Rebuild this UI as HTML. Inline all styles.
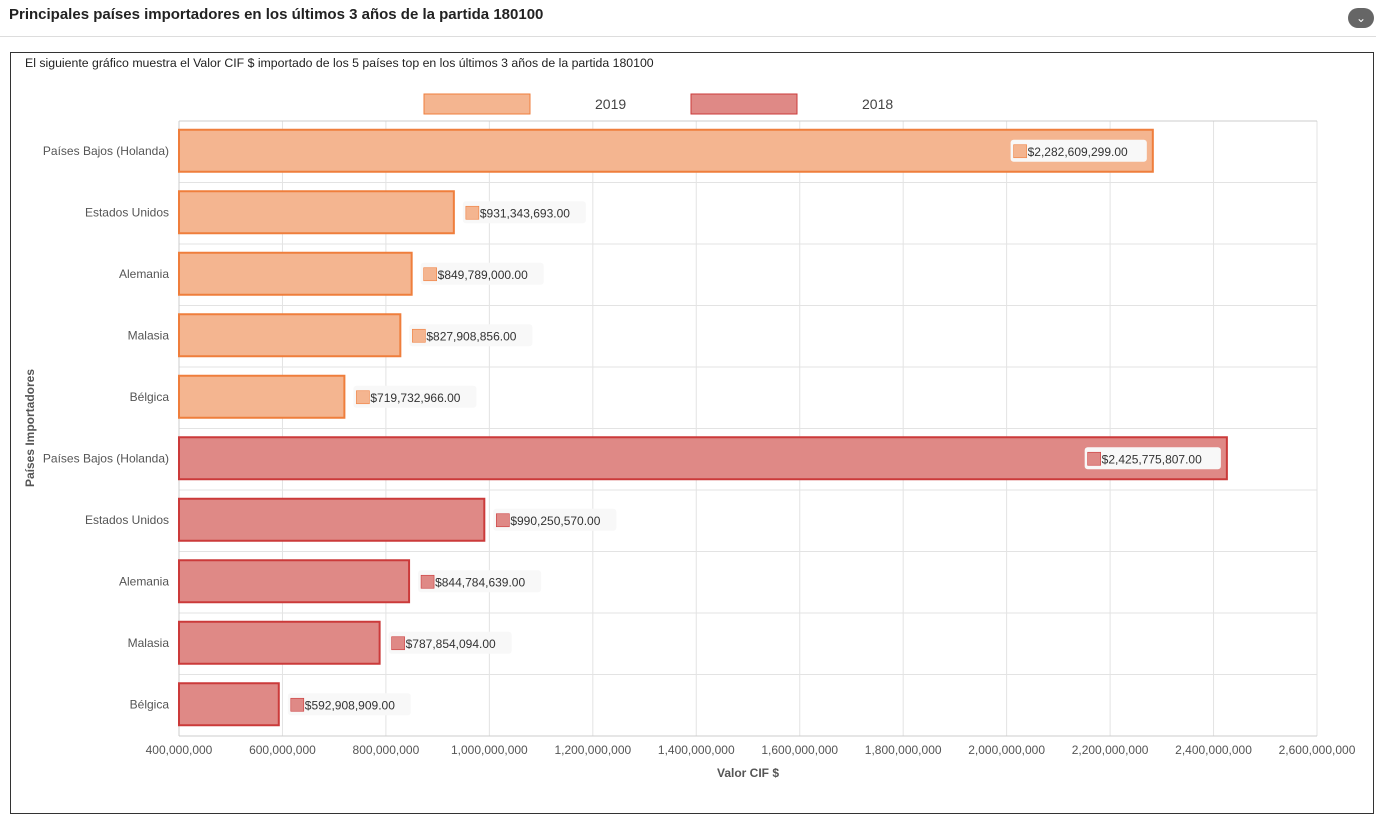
<!DOCTYPE html>
<html><head><meta charset="utf-8"><style>
body{margin:0;width:1376px;height:796px;overflow:hidden;background:#fff;font-family:"Liberation Sans",sans-serif;}
#title{position:absolute;left:9px;top:6px;font-size:15px;font-weight:bold;color:#222;}
#hr{position:absolute;left:0;top:36px;width:1376px;height:1px;background:#ddd;}
#tog{position:absolute;left:1348px;top:8px;width:26px;height:20px;border-radius:10px;background:#666;color:#fff;font-size:12px;text-align:center;line-height:20px;}
#frame{position:absolute;left:10px;top:52px;width:1362px;height:760px;border:1px solid #333;}
#sub{position:absolute;left:25px;top:56px;font-size:12.3px;color:#222;}
</style></head><body>
<div id="title">Principales países importadores en los últimos 3 años de la partida 180100</div>
<div id="hr"></div>
<div id="tog">⌄</div>
<div id="frame"></div>
<div id="sub">El siguiente gráfico muestra el Valor CIF $ importado de los 5 países top en los últimos 3 años de la partida 180100</div>
<svg id="chart" width="1376" height="796" style="position:absolute;left:0;top:0"></svg>
<script>
const countries=["Países Bajos (Holanda)","Estados Unidos","Alemania","Malasia","Bélgica"];
const series=["2019","2018"];
const values2019=[2282609299,931343693,849789000,827908856,719732966];
const values2018=[2425775807,990250570,844784639,787854094,592908909];
const ticks=[400e6,600e6,800e6,1000e6,1200e6,1400e6,1600e6,1800e6,2000e6,2200e6,2400e6,2600e6];
const NS="http://www.w3.org/2000/svg",svg=document.getElementById('chart');
const x0=179,x1=1317,y0=121,y1=736,vmin=400e6,vmax=2600e6;
const xs=v=>x0+(v-vmin)/(vmax-vmin)*(x1-x0);
const rows=10,rh=(y1-y0)/rows;
function el(t,a,txt){const e=document.createElementNS(NS,t);for(const k in a)e.setAttribute(k,a[k]);if(txt!=null)e.textContent=txt;svg.appendChild(e);return e;}
const fmt=n=>n.toLocaleString('en-US');
ticks.forEach(t=>{const g=el('line',{x1:xs(t),x2:xs(t),y1:y0,y2:y1,stroke:'#e3e3e3'});

const l=el('text',{x:xs(t),y:754,'text-anchor':'middle','font-size':12,fill:'#555'},fmt(t));
});
for(let i=0;i<=rows;i++){const g=el('line',{x1:x0,x2:x1,y1:y0+i*rh,y2:y0+i*rh,stroke:i==0||i==rows?'#ccc':'#e3e3e3'});
}
el('line',{x1:x0,x2:x0,y1:y0,y2:y1,stroke:'#ccc'});
const styles=[{fill:'#f4b590',stroke:'#ef7e3c'},{fill:'#df8986',stroke:'#cb3a3a'}];
[values2019,values2018].forEach((vals,s)=>{vals.forEach((v,i)=>{
const r=s*5+i,cy=y0+r*rh+rh/2-1,w=xs(v)-x0,st=styles[s];
const b=el('rect',{x:x0,y:cy-21,width:w,height:42,fill:st.fill,stroke:st.stroke,'stroke-width':2});

const c=el('text',{x:169,y:cy+4,'text-anchor':'end','font-size':12,fill:'#555'},countries[i]);

const txt='$'+fmt(v)+'.00',tw=txt.length*6.6+24;
const inside=xs(v)+12+tw>x1-40;const bx=inside?xs(v)-tw-6:xs(v)+9;
const box=el('rect',{x:bx,y:cy-11,width:tw,height:22,rx:3,fill:'#f8f8f8'});

el('rect',{x:bx+3,y:cy-6,width:13,height:13,fill:st.fill,stroke:st.stroke,'stroke-width':0.6});
const t=el('text',{x:bx+17,y:cy+5,'font-size':12,fill:'#333'},txt);

});});
[[424,'2019',0],[691,'2018',1]].forEach(([lx,lab,s])=>{
const r=el('rect',{x:lx,y:94,width:106,height:20,fill:styles[s].fill,stroke:styles[s].stroke});

const t=el('text',{x:lx+171,y:109,'font-size':14,fill:'#444'},lab);
});
const xt=el('text',{x:748,y:777,'text-anchor':'middle','font-size':12,'font-weight':'bold',fill:'#555'},'Valor CIF $');

const yt=el('text',{x:0,y:0,transform:'translate(34,428) rotate(-90)','text-anchor':'middle','font-size':12,'font-weight':'bold',fill:'#555'},'Países Importadores');

</script>
</body></html>
